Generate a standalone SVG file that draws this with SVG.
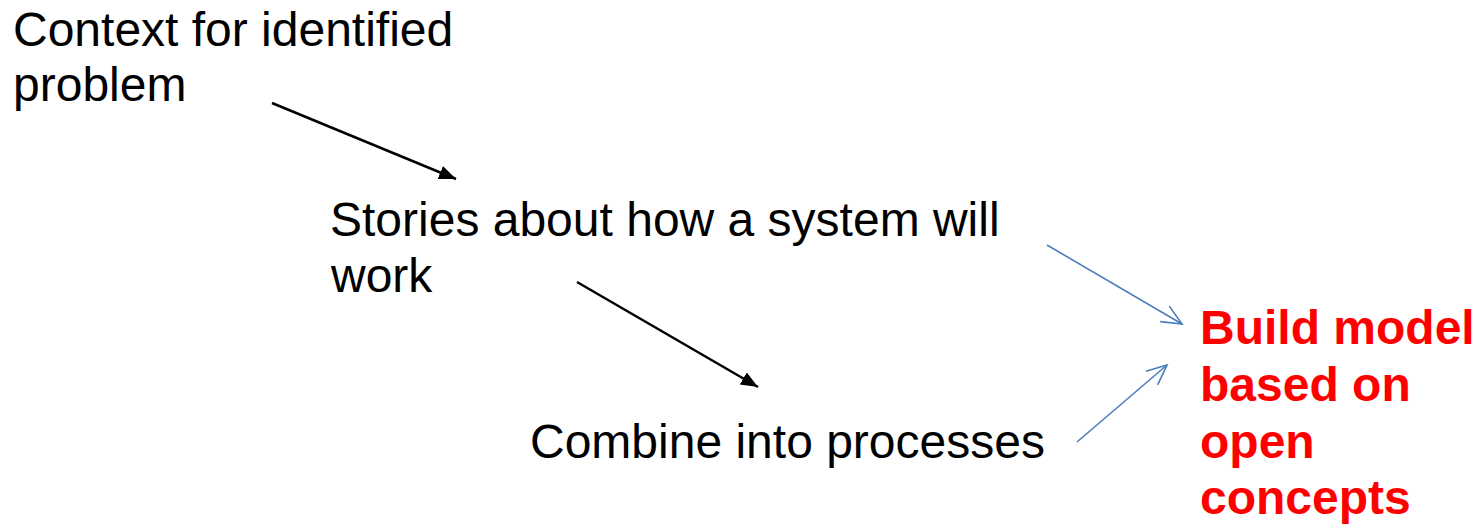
<svg xmlns="http://www.w3.org/2000/svg" width="1481" height="526" viewBox="0 0 1481 526">
  <style>
    .lbl { font-family: "Liberation Sans", Arial, sans-serif; font-size: 48px; fill: #000; }
    .goal { font-family: "Liberation Sans", Arial, sans-serif; font-size: 48px; font-weight: bold; fill: #ff0000; }
    .flow { stroke: #000; stroke-width: 2.5; fill: none; }
    .feed { stroke: #4a7ebb; stroke-width: 1.6; fill: none; }
  </style>
  <defs>
    <marker id="solidHead" markerUnits="userSpaceOnUse" markerWidth="20" markerHeight="16" refX="17" refY="7" orient="auto">
      <path d="M0,0 L17,7 L0,14 Z" fill="#000"/>
    </marker>
    <marker id="openHead" markerUnits="userSpaceOnUse" markerWidth="24" markerHeight="24" refX="21" refY="10" orient="auto">
      <path d="M1,1 L21,10 L1,19" fill="none" stroke="#4a7ebb" stroke-width="1.6"/>
    </marker>
  </defs>

  <rect width="1481" height="526" fill="#fff"/>

  <g id="context">
    <text class="lbl" x="13" y="46">Context for identified</text>
    <text class="lbl" x="13" y="101">problem</text>
  </g>

  <g id="stories">
    <text class="lbl" x="330" y="236">Stories about how a system will</text>
    <text class="lbl" x="331" y="292">work</text>
  </g>

  <g id="combine">
    <text class="lbl" x="530" y="458">Combine into processes</text>
  </g>

  <g id="build-model">
    <text class="goal" x="1200" y="344">Build model</text>
    <text class="goal" x="1200" y="401">based on</text>
    <text class="goal" x="1200" y="458">open</text>
    <text class="goal" x="1200" y="514">concepts</text>
  </g>

  <g id="connectors">
    <line class="flow" x1="272" y1="103" x2="456" y2="179" marker-end="url(#solidHead)"/>
    <line class="flow" x1="577" y1="282" x2="758" y2="387" marker-end="url(#solidHead)"/>
    <line class="feed" x1="1047" y1="245" x2="1182" y2="324" marker-end="url(#openHead)"/>
    <line class="feed" x1="1077" y1="442" x2="1167" y2="365" marker-end="url(#openHead)"/>
  </g>
</svg>
